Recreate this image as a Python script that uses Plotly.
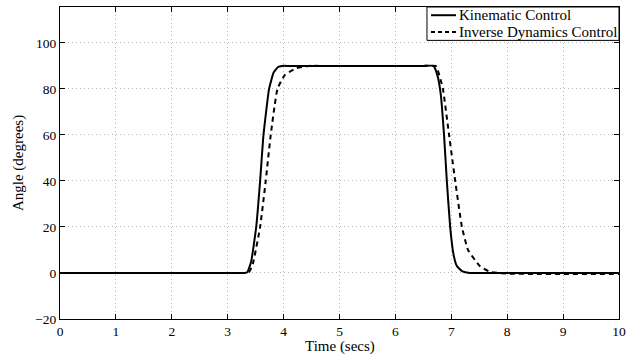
import plotly.graph_objects as go

# Kinematic Control (solid)
t_kin = [0, 1, 2, 3, 3.30, 3.35, 3.42, 3.51, 3.58, 3.64, 3.74, 3.82, 3.90, 3.97, 4.1, 4.5, 5, 5.5, 6, 6.5, 6.68,
         6.75, 6.81, 6.87, 6.92, 6.98, 7.04, 7.10, 7.20, 7.33, 7.5, 8, 9, 10]
y_kin = [0, 0, 0, 0, 0, 0.3, 5, 20, 40, 60, 80, 87, 89.5, 90, 90, 90, 90, 90, 90, 90, 90,
         86, 78, 60, 40, 20, 8, 3, 0.7, 0, 0, 0, 0, 0]

# Inverse Dynamics Control (dashed)
t_inv = [0, 1, 2, 3, 3.33, 3.38, 3.45, 3.58, 3.68, 3.77, 3.89, 4.02, 4.23, 4.45, 4.7, 5, 5.5, 6, 6.5, 6.72,
         6.76, 6.85, 6.96, 7.07, 7.19, 7.30, 7.51, 7.69, 8.0, 8.5, 9, 10]
y_inv = [0, 0, 0, 0, 0, 0.3, 4, 20, 40, 60, 80, 86, 89, 90, 90, 90, 90, 90, 90, 90,
         88, 80, 60, 40, 20, 10, 3, 0.5, -0.3, -0.4, -0.4, -0.4]

series_names = ["Kinematic Control", "Inverse Dynamics Control"]
series_dash = ["solid", "4px,3px"]

x_ticks = list(range(0, 11))
y_ticks = [-20, 0, 20, 40, 60, 80, 100]
y_tick_labels = ["\u221220", "0", "20", "40", "60", "80", "100"]

x_title = "Time (secs)"
y_title = "Angle (degrees)"

font_family = "Liberation Serif"

fig = go.Figure()
fig.add_trace(go.Scatter(x=t_kin, y=y_kin, mode="lines", name=series_names[0], showlegend=False,
                         line=dict(color="black", width=2, shape="spline", smoothing=0.4)))
fig.add_trace(go.Scatter(x=t_inv, y=y_inv, mode="lines", name=series_names[1], showlegend=False,
                         line=dict(color="black", width=2, dash="5px,4px", shape="spline", smoothing=0.4)))

axis_common = dict(showline=True, linecolor="black", linewidth=1, mirror="ticks",
                   ticks="inside", ticklen=5, tickcolor="black", automargin=False,
                   showgrid=True, gridcolor="#b8b8b8", griddash="1px,3px", gridwidth=1,
                   zeroline=False, tickfont=dict(family=font_family, size=13.5, color="black"))

# Legend box drawn in plot (paper) coordinates
box_x0, box_y0 = 0.6565, 0.893
row_y = [0.9737, 0.9195]
sample_x0, sample_x1, text_x = 0.6637, 0.7084, 0.7095

shapes = [dict(type="rect", xref="paper", yref="paper", x0=box_x0, x1=1, y0=box_y0, y1=1,
               line=dict(color="black", width=1), fillcolor="white", layer="above")]
annotations = []
for name, dash, ry in zip(series_names, series_dash, row_y):
    shapes.append(dict(type="line", xref="paper", yref="paper", x0=sample_x0, x1=sample_x1, y0=ry, y1=ry,
                       line=dict(color="black", width=2, dash=dash), layer="above"))
    annotations.append(dict(xref="paper", yref="paper", x=text_x, y=ry, text=name, showarrow=False,
                            xanchor="left", yanchor="middle",
                            font=dict(family=font_family, size=15, color="black")))

# Axis titles placed as annotations for precise positioning
annotations.append(dict(xref="paper", yref="paper", x=0.5, y=-0.0885, text=x_title, showarrow=False,
                        xanchor="center", yanchor="middle",
                        font=dict(family=font_family, size=15, color="black")))
annotations.append(dict(xref="paper", yref="paper", x=-0.075, y=0.5, text=y_title, showarrow=False,
                        textangle=-90, xanchor="center", yanchor="middle",
                        font=dict(family=font_family, size=15, color="black")))

fig.update_layout(
    width=626, height=354,
    margin=dict(l=60, r=7, t=7, b=35),
    paper_bgcolor="white", plot_bgcolor="white",
    font=dict(family=font_family, size=15, color="black"),
    xaxis=dict(range=[0, 10], tickvals=x_ticks, ticklabelstandoff=0, **axis_common),
    yaxis=dict(range=[-20, 115.6], tickvals=y_ticks, ticktext=y_tick_labels, **axis_common),
    shapes=shapes,
    annotations=annotations,
    showlegend=False,
)

fig.write_html("out.html", config={"displayModeBar": False},
               post_script="document.body.style.margin='0';")
